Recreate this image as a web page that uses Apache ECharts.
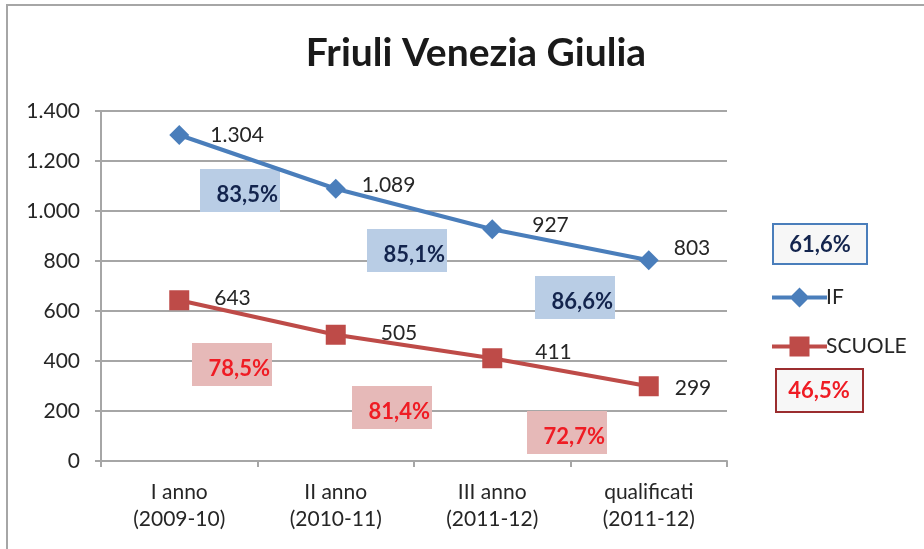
<!DOCTYPE html>
<html>
<head>
<meta charset="utf-8">
<script src="https://cdn.jsdelivr.net/npm/echarts@6/dist/echarts.min.js"></script>
<style>
  html, body { margin: 0; padding: 0; background: #fff; }
  #main { width: 924px; height: 549px; }
</style>
</head>
<body>
<div id="main"></div>
<script>
var categories = ['I anno\n(2009-10)', 'II anno\n(2010-11)', 'III anno\n(2011-12)', 'qualificati\n(2011-12)'];
var ifValues = [1304, 1089, 927, 803];
var scuoleValues = [643, 505, 411, 299];
var ifRates = ['83,5%', '85,1%', '86,6%'];
var scuoleRates = ['78,5%', '81,4%', '72,7%'];
var ifTotal = '61,6%';
var scuoleTotal = '46,5%';
var yTicks = [0, 200, 400, 600, 800, 1000, 1200, 1400];

var FONT = 'Lato';
var BLUE = '#4a7ebb';
var RED = '#be4b48';

function fmt(v) {
    return String(v).replace(/\B(?=(\d{3})+(?!\d))/g, '.');
}

// label nudges per point (x, y) relative to 'right' placement
var ifLabelShift = [[0, 0], [-5, -4], [9, -4], [-6, -12]];
var scuoleLabelShift = [[4, -2], [14, -2], [12, -6], [-5, 2]];

// rate boxes: [left, top] in pixels
var ifBoxes = [[200, 169], [367, 229], [535, 276]];
var scuoleBoxes = [[192, 343], [352, 386], [527, 411]];

// legend icons: thick line with the marker on it (55 x 20 box)
var ifIcon = 'path://M0,8H55V12H0Z M27.5,0L37.5,10L27.5,20L17.5,10Z';
var scuoleIcon = 'path://M0,8H55V12H0Z M17.5,0H37.5V20H17.5Z';

var myChart = echarts.init(document.getElementById('main'));

function seriesData(values, shifts) {
    return values.map(function (v, i) {
        return { value: v, label: { offset: shifts[i] } };
    });
}

var graphics = [
    {
        type: 'rect',
        shape: { x: 7, y: 5, width: 940, height: 560 },
        style: { fill: 'none', stroke: '#a6a6a6', lineWidth: 2 },
        silent: true
    }
];

function addBox(pos, text, fill, color) {
    graphics.push({
        type: 'rect',
        shape: { x: pos[0], y: pos[1], width: 80, height: 43 },
        style: { fill: fill },
        z: 5
    });
    graphics.push({
        type: 'text',
        x: pos[0] + 78,
        y: pos[1] + 26,
        style: {
            text: text, fill: color, font: 'bold 22px ' + FONT,
            textAlign: 'right', textVerticalAlign: 'middle'
        },
        z: 6
    });
}
ifRates.forEach(function (t, i) { addBox(ifBoxes[i], t, '#b9cde5', '#13244d'); });
scuoleRates.forEach(function (t, i) { addBox(scuoleBoxes[i], t, '#e6b9b8', '#ef1c24'); });

graphics.push({
    type: 'rect',
    shape: { x: 773, y: 224, width: 94, height: 40 },
    style: { fill: '#f7f7f7', stroke: BLUE, lineWidth: 2 }
});
graphics.push({
    type: 'text', x: 820, y: 245,
    style: { text: ifTotal, fill: '#13244d', font: 'bold 22px ' + FONT, textAlign: 'center', textVerticalAlign: 'middle' }
});
graphics.push({
    type: 'rect',
    shape: { x: 776, y: 369, width: 87, height: 43 },
    style: { fill: '#f7f7f7', stroke: '#9b2d2f', lineWidth: 2 }
});
graphics.push({
    type: 'text', x: 819, y: 391,
    style: { text: scuoleTotal, fill: '#ef1c24', font: 'bold 22px ' + FONT, textAlign: 'center', textVerticalAlign: 'middle' }
});

var option = {
    backgroundColor: '#fff',
    animation: false,
    title: {
        text: 'Friuli Venezia Giulia',
        left: 471,
        top: 29,
        textAlign: 'center',
        textStyle: { fontFamily: FONT, fontSize: 39, fontWeight: 'bold', color: '#1a1a1a' }
    },
    legend: {
        orient: 'vertical',
        left: 767,
        top: 282,
        itemWidth: 55,
        itemHeight: 20,
        itemGap: 28,
        textStyle: { fontFamily: FONT, fontSize: 21, color: '#262626', padding: [0, 0, 0, -6] },
        data: [
            { name: 'IF', icon: ifIcon },
            { name: 'SCUOLE', icon: scuoleIcon }
        ]
    },
    grid: { left: 101, right: 197, top: 111, bottom: 88 },
    xAxis: {
        type: 'category',
        data: categories,
        boundaryGap: true,
        axisLine: { lineStyle: { color: '#a6a6a6', width: 2 } },
        axisTick: { show: true, length: 6, lineStyle: { color: '#a6a6a6', width: 2 } },
        axisLabel: { fontFamily: FONT, fontSize: 21, color: '#262626', lineHeight: 27, margin: 18 }
    },
    yAxis: {
        type: 'value',
        min: yTicks[0],
        max: yTicks[yTicks.length - 1],
        interval: 200,
        axisLine: { show: true, lineStyle: { color: '#a6a6a6', width: 2 } },
        axisTick: { show: true, length: 6, lineStyle: { color: '#a6a6a6', width: 2 } },
        splitLine: { lineStyle: { color: '#a6a6a6', width: 2 } },
        axisLabel: { fontFamily: FONT, fontSize: 21, color: '#262626', margin: 21, formatter: fmt }
    },
    graphic: graphics,
    series: [
        {
            name: 'IF',
            type: 'line',
            data: seriesData(ifValues, ifLabelShift),
            symbol: 'diamond',
            symbolSize: 20,
            color: BLUE,
            lineStyle: { width: 4, color: BLUE },
            itemStyle: { color: BLUE },
            label: {
                show: true, position: 'right', distance: 21,
                fontFamily: FONT, fontSize: 21, color: '#262626',
                formatter: function (p) { return fmt(p.value); }
            },
            z: 10
        },
        {
            name: 'SCUOLE',
            type: 'line',
            data: seriesData(scuoleValues, scuoleLabelShift),
            symbol: 'rect',
            symbolSize: 20,
            color: RED,
            lineStyle: { width: 4, color: RED },
            itemStyle: { color: RED },
            label: {
                show: true, position: 'right', distance: 21,
                fontFamily: FONT, fontSize: 21, color: '#262626',
                formatter: function (p) { return fmt(p.value); }
            },
            z: 10
        }
    ]
};

myChart.setOption(option);
</script>
</body>
</html>
